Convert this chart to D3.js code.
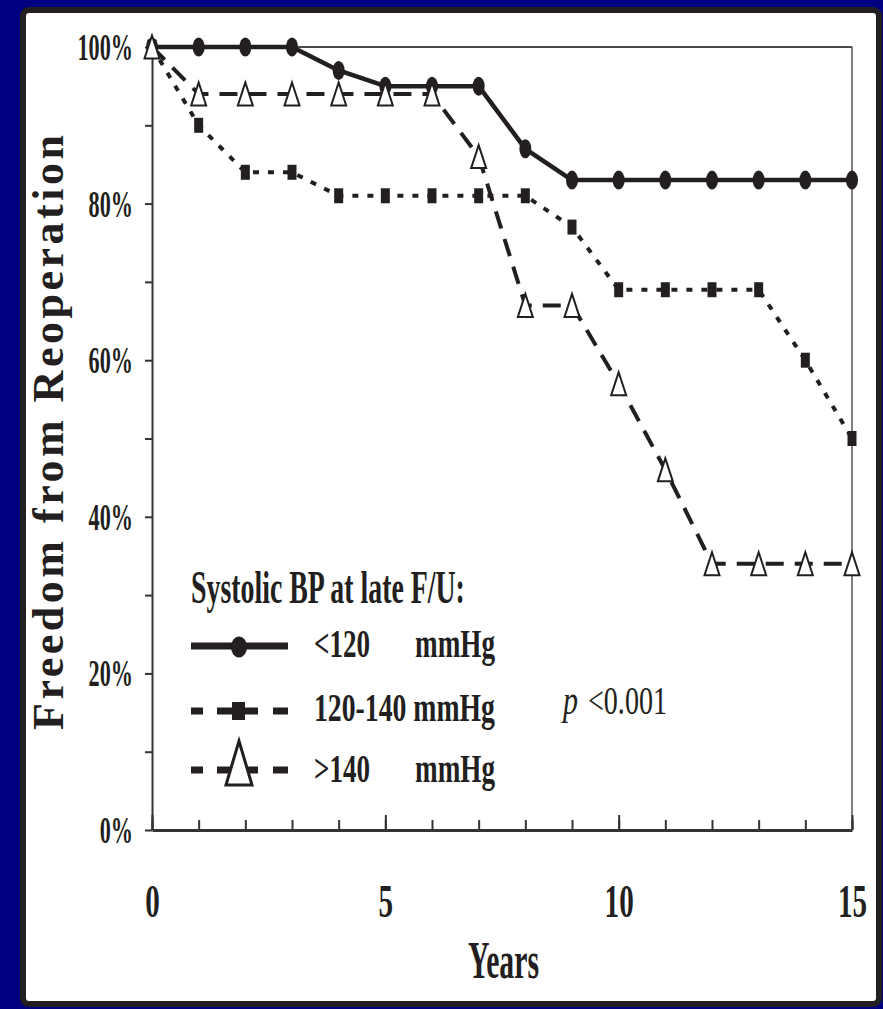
<!DOCTYPE html>
<html>
<head>
<meta charset="utf-8">
<script src="https://cdn.jsdelivr.net/npm/d3@7"></script>
<style>
  html, body { margin: 0; padding: 0; background: #000080; }
  svg { display: block; }
  text { font-family: "Liberation Serif", "Times New Roman", serif; fill: #231f20; }
</style>
</head>
<body>
<script>
// ---------- data ----------
const years = [0,1,2,3,4,5,6,7,8,9,10,11,12,13,14,15];
const bpLow  = [100,100,100,100,97,95,95,95,87,83,83,83,83,83,83,83];   // <120 mmHg
const bpMid  = [100,90,84,84,81,81,81,81,81,77,69,69,69,69,60,50];      // 120-140 mmHg
const bpHigh = [100,94,94,94,94,94,94,86,67,67,57,46,34,34,34,34];      // >140 mmHg
const xMajorTicks = [0,5,10,15];
const yTicks = [0,10,20,30,40,50,60,70,80,90,100];
const yLabelTicks = [0,20,40,60,80,100];
const seriesNames = ["<120", "120-140", ">140"];
const unitLabel = "mmHg";
const legendTitle = "Systolic BP at late F/U:";
const pText = "<0.001";

const W = 883, H = 1009;
const ink = "#231f20";

const svg = d3.select("body").append("svg").attr("width", W).attr("height", H);

// text placed at (x, baseline y) and condensed horizontally to a target width
function fitText(parent, str, x0, y0, size, width, opts = {}) {
  const t = parent.append("text")
    .attr("font-size", size)
    .attr("font-weight", opts.weight || "bold")
    .attr("font-style", opts.style || "normal")
    .text(str);
  const natural = t.node().getComputedTextLength() || width;
  t.attr("transform", `translate(${x0},${y0}) scale(${width / natural},1)`);
  return t;
}

// navy background + white panel
svg.append("rect").attr("width", W).attr("height", H).attr("fill", "#000080");
svg.append("rect")
  .attr("x", 23).attr("y", 10).attr("width", 856).attr("height", 994)
  .attr("rx", 6).attr("fill", "#ffffff").attr("stroke", ink).attr("stroke-width", 6);

// scales
const x = d3.scaleLinear().domain([0, 15]).range([152, 852]);
const y = d3.scaleLinear().domain([0, 100]).range([830, 47]);

// frame top & right
svg.append("line").attr("x1", x(0)).attr("x2", x(15)).attr("y1", y(100)).attr("y2", y(100))
  .attr("stroke", "#4a4a4a").attr("stroke-width", 2);
svg.append("line").attr("x1", x(15)).attr("x2", x(15)).attr("y1", y(100)).attr("y2", y(0))
  .attr("stroke", "#555").attr("stroke-width", 1.5);

// y axis
const yAxisG = svg.append("g").attr("transform", `translate(${x(0)},0)`)
  .call(d3.axisLeft(y).tickValues(yTicks).tickSizeInner(7).tickSizeOuter(0)
    .tickFormat(d => yLabelTicks.includes(d) ? d + "%" : ""));
yAxisG.select(".domain").attr("stroke", "#333").attr("stroke-width", 2);
yAxisG.selectAll(".tick line").attr("stroke", "#333").attr("stroke-width", 2);
yAxisG.selectAll(".tick text")
  .attr("font-family", '"Liberation Serif", "Times New Roman", serif')
  .attr("font-size", 37).attr("font-weight", "bold").attr("fill", ink)
  .attr("dy", null).attr("x", -19 / 0.6).attr("y", 12.5)
  .attr("transform", "scale(0.6,1)").attr("text-anchor", "end");

// x axis: minor ticks
const xMinorG = svg.append("g").attr("transform", `translate(0,${y(0)})`)
  .call(d3.axisBottom(x).tickValues(years).tickSizeInner(-10).tickSizeOuter(0).tickFormat(""));
xMinorG.select(".domain").attr("stroke", "#333").attr("stroke-width", 3);
xMinorG.selectAll(".tick line").attr("stroke", "#333").attr("stroke-width", 2);
// x axis: major ticks with labels
const xMajorG = svg.append("g").attr("transform", `translate(0,${y(0)})`)
  .call(d3.axisBottom(x).tickValues(xMajorTicks).tickSizeInner(-15).tickSizeOuter(0).tickFormat(d3.format("d")));
xMajorG.select(".domain").remove();
xMajorG.selectAll(".tick line").attr("stroke", "#333").attr("stroke-width", 2);
xMajorG.selectAll(".tick text")
  .attr("font-family", '"Liberation Serif", "Times New Roman", serif')
  .attr("font-size", 47).attr("font-weight", "bold").attr("fill", ink)
  .attr("dy", null).attr("y", 87).attr("x", 0)
  .attr("transform", "scale(0.62,1)").attr("text-anchor", "middle");

// axis titles
fitText(svg, "Years", 468, 978, 53, 71);

svg.append("g").attr("transform", "translate(63,432.5) rotate(-90)")
  .append("text").attr("x", -297.5).attr("y", 0)
  .attr("font-size", 44).attr("font-weight", "bold")
  .attr("textLength", 595).attr("lengthAdjust", "spacing")
  .text("Freedom from Reoperation");

// ---------- series ----------
const line = d3.line().x((d, i) => x(years[i])).y(d => y(d));

const gLow = svg.append("g");
gLow.append("path").attr("d", line(bpLow)).attr("fill", "none")
  .attr("stroke", ink).attr("stroke-width", 4.5).attr("stroke-linejoin", "round");

const gMid = svg.append("g");
gMid.append("path").attr("d", line(bpMid)).attr("fill", "none")
  .attr("stroke", ink).attr("stroke-width", 4).attr("stroke-dasharray", "6,9");

const gHigh = svg.append("g");
gHigh.append("path").attr("d", line(bpHigh)).attr("fill", "none")
  .attr("stroke", ink).attr("stroke-width", 4).attr("stroke-dasharray", "18,11");

gLow.selectAll("ellipse").data(bpLow).join("ellipse")
  .attr("cx", (d, i) => x(years[i])).attr("cy", d => y(d))
  .attr("rx", 6).attr("ry", 9.5).attr("fill", ink);

gMid.selectAll("rect").data(bpMid).join("rect")
  .attr("x", (d, i) => x(years[i]) - 4.5).attr("y", d => y(d) - 7.5)
  .attr("width", 9).attr("height", 15).attr("fill", ink);

const tri = (cx, cy, w, h) => `M${cx},${cy - h / 2}L${cx + w / 2},${cy + h / 2}L${cx - w / 2},${cy + h / 2}Z`;
gHigh.selectAll("path.m").data(bpHigh).join("path").attr("class", "m")
  .attr("d", (d, i) => tri(x(years[i]), y(d), 15, 23))
  .attr("fill", "#fff").attr("stroke", ink).attr("stroke-width", 2).attr("stroke-linejoin", "miter");

// ---------- legend ----------
const leg = svg.append("g");
fitText(leg, legendTitle, 191, 603, 46, 274);

// row 1
leg.append("line").attr("x1", 191).attr("x2", 288).attr("y1", 646).attr("y2", 646)
  .attr("stroke", ink).attr("stroke-width", 7);
leg.append("ellipse").attr("cx", 239).attr("cy", 647).attr("rx", 8).attr("ry", 10.5).attr("fill", ink);
// row 2
leg.append("line").attr("x1", 191).attr("x2", 288).attr("y1", 711).attr("y2", 711)
  .attr("stroke", ink).attr("stroke-width", 7).attr("stroke-dasharray", "12,14,41,15,15");
leg.append("rect").attr("x", 232).attr("y", 702).attr("width", 13).attr("height", 18).attr("fill", ink);
// row 3
leg.append("line").attr("x1", 191).attr("x2", 288).attr("y1", 770).attr("y2", 770)
  .attr("stroke", ink).attr("stroke-width", 7).attr("stroke-dasharray", "12,14,41,15,15");
leg.append("path").attr("d", tri(239, 763, 26, 44))
  .attr("fill", "#fff").attr("stroke", ink).attr("stroke-width", 3);

const rowBase = [657, 721, 782];
seriesNames.forEach((s, i) => {
  if (i === 1) {
    fitText(leg, s + " " + unitLabel, 314, rowBase[i], 41, 181);
  } else {
    fitText(leg, s, 314, rowBase[i], 41, 56);
    fitText(leg, unitLabel, 415, rowBase[i], 41, 80);
  }
});

// p-value
fitText(svg, "p", 563, 714, 41, 15, { weight: "normal", style: "italic" });
fitText(svg, pText, 588, 714, 41, 79, { weight: "normal" });
</script>
</body>
</html>
